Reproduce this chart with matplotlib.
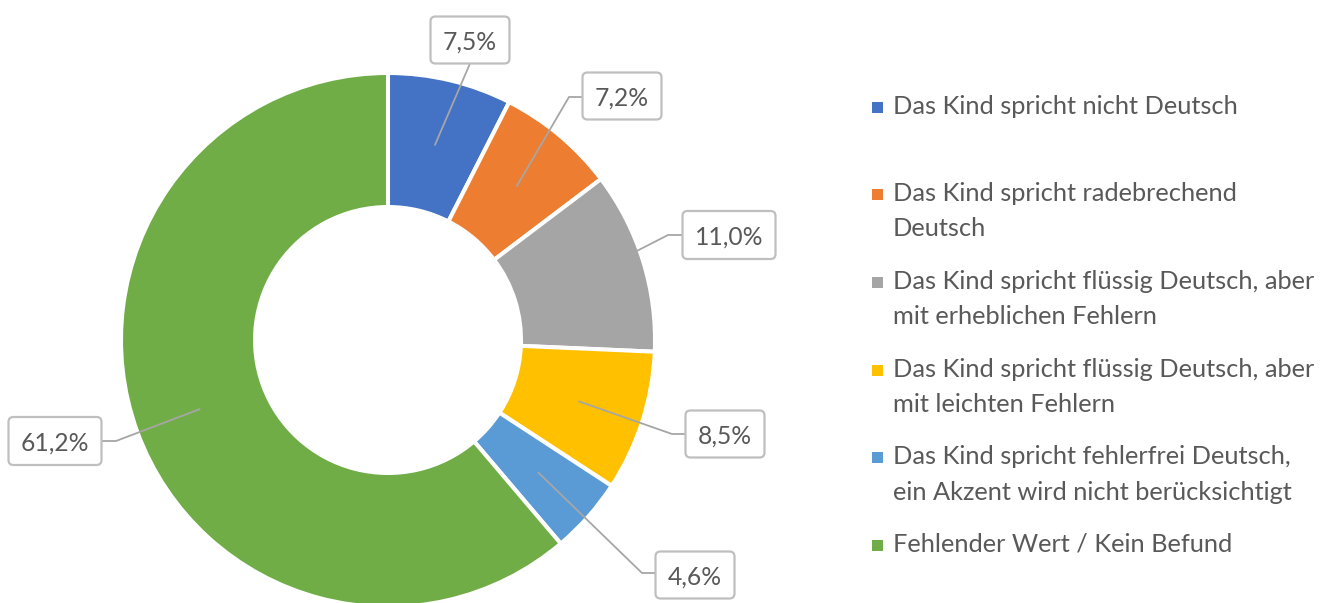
import matplotlib
matplotlib.use("Agg")
import matplotlib.pyplot as plt
from matplotlib.patches import FancyBboxPatch, Rectangle
import numpy as np

# ---- data ----
categories = [
    "Das Kind spricht nicht Deutsch",
    "Das Kind spricht radebrechend\nDeutsch",
    "Das Kind spricht flüssig Deutsch, aber\nmit erheblichen Fehlern",
    "Das Kind spricht flüssig Deutsch, aber\nmit leichten Fehlern",
    "Das Kind spricht fehlerfrei Deutsch,\nein Akzent wird nicht berücksichtigt",
    "Fehlender Wert / Kein Befund",
]
values = [7.5, 7.2, 11.0, 8.5, 4.6, 61.2]
colors = ["#4472C4", "#ED7D31", "#A5A5A5", "#FFC000", "#5B9BD5", "#70AD47"]

# ---- layout (pixel coords, top-origin) ----
W, H = 1336, 603
FONT = "Lato"
TXT = "#595959"
cx, cy = 388, 340
R, RING = 267, 134
box_centers = [(470, 40), (622, 96), (729, 235), (725, 434), (695, 575), (55, 441)]
box_sizes = [(79, 47), (79, 47), (93, 48), (79, 47), (79, 47), (93, 48)]
elbows = [None, (569, 97), (668, 235), (672, 434), (642, 573), (116, 441)]
leg_baselines = [114, 201, 289, 377, 464, 552]
leg_line = 35.5
leg_marker_x = 872
leg_text_x = 893

def Y(y):
    return H - y

fig = plt.figure(figsize=(W / 100, H / 100), dpi=100)
ax = fig.add_axes([0, 0, 1, 1])
ax.set_xlim(0, W)
ax.set_ylim(0, H)
ax.set_aspect("equal")
ax.axis("off")

wedges, _ = ax.pie(values, colors=colors, startangle=90, counterclock=False,
                   radius=R, center=(cx, Y(cy)),
                   wedgeprops=dict(width=RING, edgecolor="white", linewidth=2.9))
ax.set_xlim(0, W)
ax.set_ylim(0, H)

renderer = fig.canvas.get_renderer()

def fit_size(s, target_px, base=20):
    t = ax.text(0, 0, s, fontsize=base, family=FONT)
    w = t.get_window_extent(renderer).width
    t.remove()
    return base * target_px / w

lab_fs = fit_size("7,5%", 54)
leg_fs = fit_size("Das Kind spricht nicht Deutsch", 346)

# ---- data labels with leader lines ----
for i, (w, v) in enumerate(zip(wedges, values)):
    mid = np.deg2rad((w.theta1 + w.theta2) / 2)
    rm = R - RING / 2
    ax_, ay_ = cx + rm * np.cos(mid), Y(cy) + rm * np.sin(mid)
    bx, by = box_centers[i]
    bw, bh = box_sizes[i]
    if elbows[i] is None:
        xs = [ax_, bx]
        ys = [ay_, Y(by + bh / 2)]
    else:
        ex, ey = elbows[i]
        edge_x = bx - bw / 2 if ex < bx else bx + bw / 2
        xs = [ax_, ex, edge_x]
        ys = [ay_, Y(ey), Y(ey)]
    ax.plot(xs, ys, color="#A6A6A6", lw=1.3, zorder=3, solid_capstyle="butt")
    box = FancyBboxPatch((bx - bw / 2 + 4, Y(by + bh / 2) + 4), bw - 8, bh - 8,
                         boxstyle="round,pad=4,rounding_size=5",
                         facecolor="white", edgecolor="#BFBFBF", lw=1.6, zorder=4)
    ax.add_patch(box)
    lab = f"{v:.1f}%".replace(".", ",")
    ax.text(bx, Y(by) - 10, lab, ha="center", va="baseline", fontsize=lab_fs,
            family=FONT, color=TXT, zorder=5)

# ---- legend ----
for i, (cat, col) in enumerate(zip(categories, colors)):
    b = leg_baselines[i]
    ax.add_patch(Rectangle((leg_marker_x, Y(b - 1)), 11, 11, facecolor=col, edgecolor="none"))
    for k, line in enumerate(cat.split("\n")):
        ax.text(leg_text_x, Y(b + k * leg_line), line, ha="left", va="baseline",
                fontsize=leg_fs, family=FONT, color=TXT)

fig.savefig("out.png", dpi=100, facecolor="white")
